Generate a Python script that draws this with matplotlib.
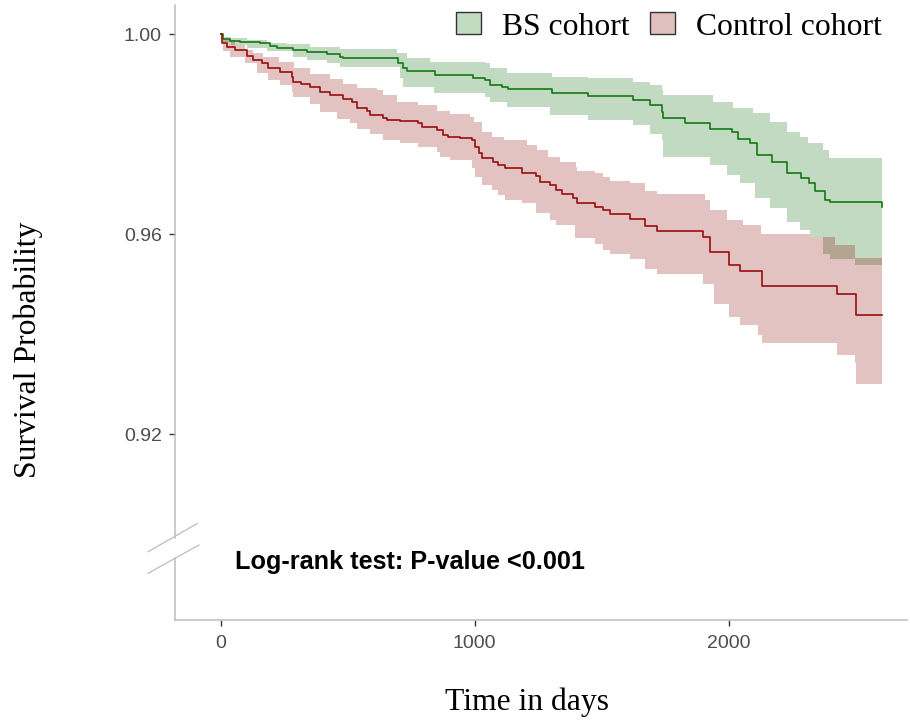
import numpy as np
import matplotlib
matplotlib.use('Agg')
import matplotlib.pyplot as plt
from matplotlib.patches import Patch

# Kaplan-Meier values (days, survival probability)
bs_t = [0, 10, 37, 76, 155, 194, 220, 286, 339, 417, 470, 483, 699, 719, 732, 844, 995, 1041, 1060,
        1106, 1132, 1303, 1447, 1624, 1690, 1736, 1743, 1828, 1926, 2012, 2038, 2084, 2110, 2169,
        2228, 2285, 2318, 2340, 2379, 2399, 2602]
bs_s = [1.0, 0.9991, 0.9987, 0.9984, 0.9982, 0.9977, 0.9972, 0.9969, 0.9964, 0.9960, 0.9955, 0.9952,
        0.9942, 0.9933, 0.9927, 0.9919, 0.9913, 0.9909, 0.9899, 0.9895, 0.9891, 0.9883, 0.9877,
        0.9869, 0.9859, 0.9845, 0.9832, 0.9822, 0.9810, 0.9804, 0.9791, 0.9782, 0.9759, 0.9744,
        0.9723, 0.9713, 0.9702, 0.9687, 0.9669, 0.9664, 0.9655]

bs_up_t = [0, 10, 40, 102, 181, 260, 352, 470, 693, 732, 824, 1041, 1060, 1126, 1303, 1447, 1624,
           1690, 1736, 1743, 1939, 2018, 2097, 2163, 2228, 2281, 2314, 2373, 2393]
bs_up = [1.0, 0.9995, 0.9992, 0.9989, 0.9982, 0.9980, 0.9975, 0.9971, 0.9962, 0.9952, 0.9945,
         0.9942, 0.9932, 0.9922, 0.9915, 0.9912, 0.9905, 0.9899, 0.9889, 0.9879, 0.9864, 0.9852,
         0.9842, 0.9824, 0.9805, 0.9795, 0.9782, 0.9769, 0.9752]

bs_lo_t = [0, 10, 40, 102, 181, 285, 339, 417, 470, 706, 719, 838, 1041, 1060, 1126, 1296, 1447,
           1624, 1690, 1736, 1743, 1926, 1992, 2044, 2103, 2163, 2228, 2281, 2320, 2373, 2399, 2497]
bs_lo = [1.0, 0.9985, 0.9979, 0.9972, 0.9967, 0.9955, 0.9949, 0.9942, 0.9935, 0.9912, 0.9895,
         0.9882, 0.9875, 0.9865, 0.9855, 0.9839, 0.9829, 0.9819, 0.9801, 0.9789, 0.9755, 0.9739,
         0.9719, 0.9702, 0.9672, 0.9652, 0.9625, 0.9609, 0.9595, 0.9561, 0.9551, 0.9539]

ctl_t = [0, 4, 24, 56, 102, 128, 161, 187, 233, 279, 286, 318, 352, 391, 430, 483, 516, 535, 575,
         588, 640, 653, 706, 778, 791, 850, 876, 896, 942, 988, 1001, 1017, 1027, 1073, 1093, 1119,
         1185, 1243, 1257, 1296, 1322, 1342, 1388, 1401, 1473, 1506, 1533, 1611, 1670, 1716, 1900,
         1927, 2001, 2046, 2130, 2426, 2503]
ctl_s = [1.0, 0.9982, 0.9975, 0.9969, 0.9957, 0.9949, 0.9942, 0.9932, 0.9925, 0.9915, 0.9905,
         0.9900, 0.9895, 0.9885, 0.9879, 0.9871, 0.9865, 0.9852, 0.9847, 0.9839, 0.9832, 0.9829,
         0.9827, 0.9822, 0.9815, 0.9809, 0.9799, 0.9795, 0.9792, 0.9789, 0.9775, 0.9762, 0.9752,
         0.9745, 0.9739, 0.9732, 0.9723, 0.9717, 0.9705, 0.9699, 0.9689, 0.9681, 0.9672, 0.9662,
         0.9655, 0.9649, 0.9641, 0.9631, 0.9617, 0.9607, 0.9594, 0.9565, 0.9539, 0.9527, 0.9497,
         0.9481, 0.9439]

ctl_up_t = [0, 10, 56, 96, 128, 168, 230, 288, 352, 430, 483, 535, 614, 640, 694, 778, 850, 903,
            981, 996, 1029, 1069, 1115, 1207, 1247, 1290, 1336, 1397, 1403, 1474, 1506, 1533, 1611,
            1670, 1718, 1907, 1927, 1992, 2058, 2129, 2320, 2420, 2497]
ctl_up = [1.0, 0.9989, 0.9979, 0.9969, 0.9962, 0.9955, 0.9945, 0.9932, 0.9920, 0.9910, 0.9901,
          0.9893, 0.9889, 0.9878, 0.9865, 0.9859, 0.9847, 0.9840, 0.9835, 0.9825, 0.9805, 0.9795,
          0.9789, 0.9779, 0.9769, 0.9755, 0.9745, 0.9735, 0.9727, 0.9722, 0.9715, 0.9707, 0.9702,
          0.9687, 0.9681, 0.9669, 0.9649, 0.9629, 0.9619, 0.9601, 0.9594, 0.9579, 0.9553]

ctl_lo_t = [0, 10, 37, 96, 142, 187, 233, 279, 286, 352, 391, 457, 509, 535, 588, 640, 706, 778,
            850, 863, 903, 988, 1001, 1027, 1067, 1093, 1119, 1185, 1243, 1296, 1322, 1394, 1474,
            1506, 1533, 1611, 1670, 1716, 1900, 1942, 2001, 2046, 2117, 2130, 2426, 2497, 2503]
ctl_lo = [1.0, 0.9966, 0.9955, 0.9942, 0.9922, 0.9909, 0.9899, 0.9885, 0.9875, 0.9861, 0.9845,
          0.9831, 0.9822, 0.9811, 0.9801, 0.9789, 0.9782, 0.9775, 0.9765, 0.9755, 0.9749, 0.9732,
          0.9715, 0.9699, 0.9689, 0.9679, 0.9669, 0.9662, 0.9642, 0.9629, 0.9619, 0.9592, 0.9581,
          0.9569, 0.9561, 0.9551, 0.9531, 0.9521, 0.9501, 0.9461, 0.9435, 0.9418, 0.9399, 0.9383,
          0.9359, 0.9342, 0.9301]

t_end = 2605
legend_labels = ['BS cohort', 'Control cohort']
x_ticks = [0, 1000, 2000]
y_ticks = [0.92, 0.96, 1.00]


def step_at(t, v, grid):
    idx = np.searchsorted(np.asarray(t), grid, side='right') - 1
    return np.asarray(v)[idx]


def band(ax, t_up, up, t_lo, lo, color):
    grid = np.unique(np.concatenate([t_up, t_lo, [t_end]]))
    ax.fill_between(grid, step_at(t_lo, lo, grid), step_at(t_up, up, grid),
                    step='post', color=color, alpha=0.24, linewidth=0)


fig = plt.figure(figsize=(9.1, 7.22), dpi=100)
ax = fig.add_axes([175 / 910, 1 - 620 / 722, 732 / 910, 615 / 722])

band(ax, bs_up_t, bs_up, bs_lo_t, bs_lo, '#006400')
band(ax, ctl_up_t, ctl_up, ctl_lo_t, ctl_lo, '#8b0000')

ax.step(bs_t + [t_end], bs_s + [bs_s[-1]], where='post', color='#137a13', lw=1.2)
ax.step(ctl_t + [t_end], ctl_s + [ctl_s[-1]], where='post', color='#990f0f', lw=1.2)

ax.set_xlim(-180, 2702)
ax.set_ylim(0.88286, 1.00586)
ax.set_xticks(x_ticks)
ax.set_xticklabels([str(v) for v in x_ticks])
ax.set_yticks(y_ticks)
ax.set_yticklabels(['%.2f' % v for v in y_ticks])
ax.tick_params(length=4.5, width=1, color='#333333', labelcolor='#4d4d4d', labelsize=14,
               pad=5)
ax.tick_params(axis='x', pad=6.5)
for lab in ax.get_xticklabels() + ax.get_yticklabels():
    lab.set_family('Liberation Sans')

for s in ['top', 'right', 'left']:
    ax.spines[s].set_visible(False)
ax.spines['bottom'].set_color('#bdbdbd')
ax.spines['bottom'].set_linewidth(1.1)

# broken y axis
ax.plot([0, 0], [0.1333, 1], transform=ax.transAxes, color='#bdbdbd', lw=1.1, clip_on=False)
ax.plot([0, 0], [0, 0.1008], transform=ax.transAxes, color='#bdbdbd', lw=1.1, clip_on=False)
ax.plot([-0.0369, 0.0305], [0.111, 0.157], transform=ax.transAxes, color='#bdbdbd', lw=0.9,
        clip_on=False)
ax.plot([-0.0369, 0.0328], [0.0759, 0.122], transform=ax.transAxes, color='#bdbdbd', lw=0.9,
        clip_on=False)

ax.text(0.082, 0.0943, 'Log-rank test: P-value <0.001', transform=ax.transAxes,
        fontsize=18.2, fontweight='bold', family='Liberation Sans', va='center', ha='left')

fig.text(28 / 910, 1 - 350 / 722, 'Survival Probability', rotation=90, fontsize=22.8,
         family='Liberation Serif', ha='center', va='center')
fig.text(527 / 910, 1 - 702 / 722, 'Time in days', fontsize=22.8,
         family='Liberation Serif', ha='center', va='center')

handles = [Patch(facecolor='#c2dcc2', edgecolor='#333333', lw=1),
           Patch(facecolor='#e2bfbf', edgecolor='#333333', lw=1)]
fig.legend(handles, legend_labels, loc='center right', bbox_to_anchor=(882 / 910, 1 - 27 / 722),
           ncol=2, frameon=False, prop={'family': 'Liberation Serif', 'size': 22.8},
           handlelength=0.79, handleheight=0.69, handletextpad=0.66, columnspacing=0.66,
           borderpad=0, borderaxespad=0)

fig.savefig('out.png', dpi=100)
